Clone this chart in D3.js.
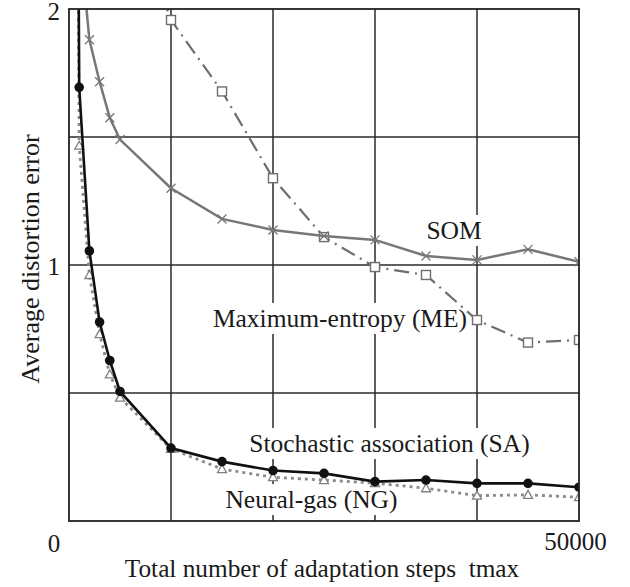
<!DOCTYPE html>
<html><head><meta charset="utf-8">
<script src="https://cdn.jsdelivr.net/npm/d3@7"></script>
</head><body style="margin:0">
<script>
const steps = [500, 1000, 2000, 3000, 4000, 5000, 10000, 15000, 20000, 25000, 30000, 35000, 40000, 45000, 50000];
const saValues = [5.5, 1.694, 1.055, 0.777, 0.627, 0.506, 0.285, 0.232, 0.197, 0.186, 0.154, 0.160, 0.147, 0.147, 0.132];
const ngValues = [5.0, 1.466, 0.961, 0.730, 0.573, 0.482, 0.282, 0.203, 0.171, 0.160, 0.148, 0.128, 0.099, 0.102, 0.093];
const somSteps = [1000, 2000, 3000, 4000, 5000, 10000, 15000, 20000, 25000, 30000, 35000, 40000, 45000, 50000];
const somValues = [2.3, 1.88, 1.716, 1.575, 1.49, 1.30, 1.18, 1.137, 1.113, 1.098, 1.035, 1.02, 1.061, 1.013];
const meSteps = [5000, 10000, 15000, 20000, 25000, 30000, 35000, 40000, 45000, 50000];
const meValues = [2.5, 1.957, 1.678, 1.339, 1.109, 0.992, 0.961, 0.785, 0.697, 0.707];
const xGrid = [10000, 20000, 30000, 40000];
const yGrid = [0.5, 1, 1.5];
const yTickLabels = [2, 1];
const xTickLabels = [0, 50000];
const seriesLabels = [
  {text: "SOM", x: 37750, y: 1.1016},
  {text: "Maximum-entropy (ME)", x: 26570, y: 0.758},
  {text: "Stochastic association (SA)", x: 31420, y: 0.2695},
  {text: "Neural-gas (NG)", x: 23770, y: 0.0508}
];

const W = 630, H = 587;
const svg = d3.select("body").append("svg").attr("width", W).attr("height", H)
  .attr("font-family", "Liberation Serif");
const x = d3.scaleLinear().domain([0, 50000]).range([69, 579]);
const y = d3.scaleLinear().domain([0, 2]).range([521, 9]);

svg.append("defs").append("clipPath").attr("id", "plot")
  .append("rect").attr("x", x(0)).attr("y", y(2)).attr("width", x(50000) - x(0)).attr("height", y(0) - y(2));

// grid
svg.append("g").selectAll("line").data(xGrid).join("line")
  .attr("x1", d => x(d)).attr("x2", d => x(d)).attr("y1", y(0)).attr("y2", y(2))
  .attr("stroke", "#2a2a2a").attr("stroke-width", 1.5);
svg.append("g").selectAll("line").data(yGrid).join("line")
  .attr("y1", d => y(d)).attr("y2", d => y(d)).attr("x1", x(0)).attr("x2", x(50000))
  .attr("stroke", "#2a2a2a").attr("stroke-width", 1.5);

// labels with white background
const lg = svg.append("g");
lg.selectAll("rect").data(seriesLabels).join("rect").attr("fill", "#fff");
lg.selectAll("text").data(seriesLabels).join("text")
  .attr("x", d => x(d.x)).attr("y", d => y(d.y)).attr("text-anchor", "middle")
  .attr("font-size", 25.5).attr("fill", "#1a1a1a").attr("font-family", d => "Liberation Serif").text(d => d.text);

const plot = svg.append("g").attr("clip-path", "url(#plot)");
const line = d3.line().x(d => x(d[0])).y(d => y(d[1]));
const zip = (a, b) => a.map((v, i) => [v, b[i]]);
const inside = d => d[1] <= 2;

const som = zip(somSteps, somValues);
const me = zip(meSteps, meValues);
const sa = zip(steps, saValues);
const ng = zip(steps, ngValues);

// ME
plot.append("path").attr("d", line(me)).attr("fill", "none").attr("stroke", "#6e6e6e")
  .attr("stroke-width", 2.2).attr("stroke-dasharray", "15,6,2,6");
plot.append("g").selectAll("rect").data(me.filter(inside)).join("rect")
  .attr("x", d => x(d[0]) - 4.5).attr("y", d => y(d[1]) - 4.5).attr("width", 9).attr("height", 9)
  .attr("fill", "#fff").attr("stroke", "#6e6e6e").attr("stroke-width", 1.4);

// SOM
plot.append("path").attr("d", line(som)).attr("fill", "none").attr("stroke", "#777").attr("stroke-width", 2.5);
plot.append("g").selectAll("path").data(som.filter(inside)).join("path")
  .attr("d", d => { const cx = x(d[0]), cy = y(d[1]), r = 4.5; return `M${cx-r},${cy-r}L${cx+r},${cy+r}M${cx-r},${cy+r}L${cx+r},${cy-r}`; })
  .attr("stroke", "#777").attr("stroke-width", 1.3).attr("fill", "none");

// NG
plot.append("path").attr("d", line(ng)).attr("fill", "none").attr("stroke", "#8a8a8a")
  .attr("stroke-width", 2.8).attr("stroke-dasharray", "3,4");
plot.append("g").selectAll("path").data(ng.filter(inside)).join("path")
  .attr("d", d => { const cx = x(d[0]), cy = y(d[1]); return `M${cx},${cy-4.5}L${cx+4.5},${cy+3.5}L${cx-4.5},${cy+3.5}Z`; })
  .attr("fill", "#fff").attr("stroke", "#808080").attr("stroke-width", 1.3);

// SA
plot.append("path").attr("d", line(sa)).attr("fill", "none").attr("stroke", "#111").attr("stroke-width", 2.6);
plot.append("g").selectAll("circle").data(sa.filter(inside)).join("circle")
  .attr("cx", d => x(d[0])).attr("cy", d => y(d[1])).attr("r", 4.8).attr("fill", "#111");

// frame
svg.append("rect").attr("x", x(0)).attr("y", y(2)).attr("width", x(50000) - x(0)).attr("height", y(0) - y(2))
  .attr("fill", "none").attr("stroke", "#222").attr("stroke-width", 1.8);

// tick labels
svg.append("g").selectAll("text").data(yTickLabels).join("text")
  .attr("x", 60).attr("y", d => d === 2 ? y(d) + 11 : y(d) + 9.5).attr("text-anchor", "end")
  .attr("font-size", 25).attr("fill", "#1a1a1a").attr("font-family", d => "Liberation Serif").text(d => d);
svg.append("g").selectAll("text").data(xTickLabels).join("text")
  .attr("x", d => d === 0 ? x(d) - 15 : x(d) - 3.5).attr("y", d => d === 0 ? 552 : 549.5).attr("text-anchor", "middle")
  .attr("font-size", 25).attr("fill", "#1a1a1a").attr("font-family", d => "Liberation Serif").text(d => d);

// axis titles
svg.append("text").attr("transform", "translate(39,259) rotate(-90)")
  .attr("text-anchor", "middle").attr("font-size", 26).attr("fill", "#1a1a1a").attr("font-family", "Liberation Serif")
  .text("Average distortion error");
svg.append("text").attr("x", 322).attr("y", 577).attr("text-anchor", "middle").attr("font-size", 25.3)
  .attr("fill", "#1a1a1a").attr("font-family", "Liberation Serif")
  .text("Total number of adaptation steps\u00a0\u00a0tmax");

// size label backgrounds
lg.selectAll("text").each(function(d, i) {
  const b = this.getBBox();
  d3.select(lg.selectAll("rect").nodes()[i]).attr("x", b.x - 3).attr("y", b.y - 1)
    .attr("width", b.width + 6).attr("height", b.height + 2);
});
</script>
</body></html>
